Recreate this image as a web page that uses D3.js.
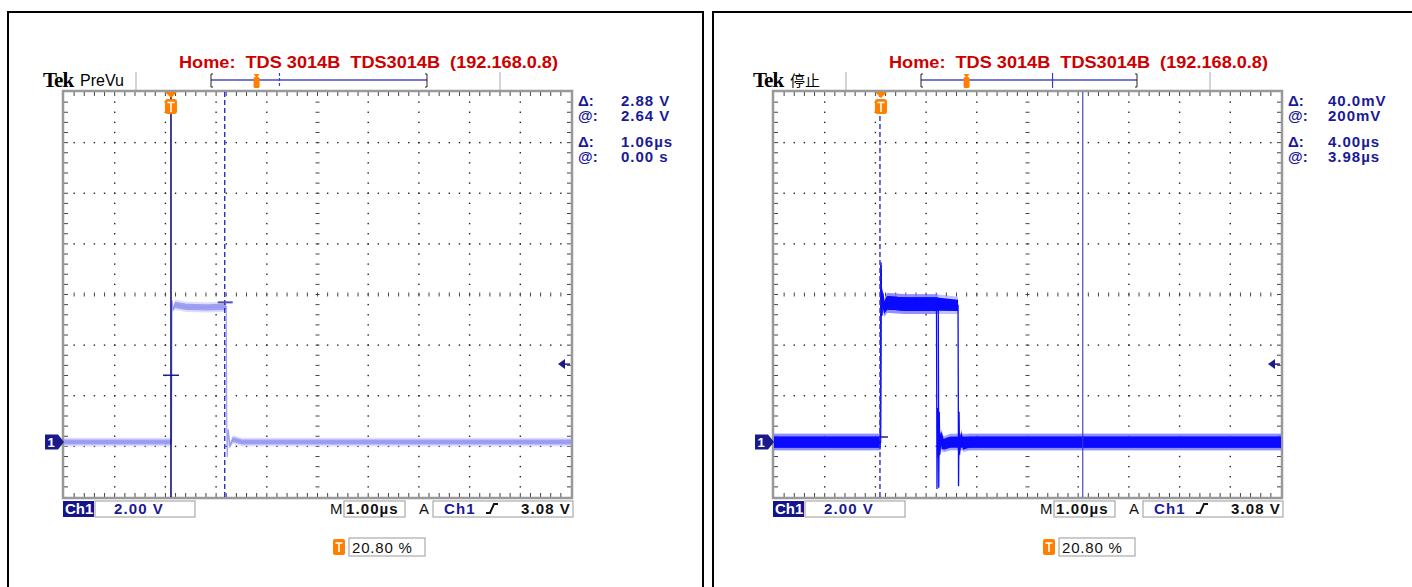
<!DOCTYPE html>
<html>
<head>
<meta charset="utf-8">
<script src="https://cdn.jsdelivr.net/npm/d3@7"></script>
<style>
body{margin:0;background:#fff;}
svg{display:block;font-family:"Liberation Sans",Arial,sans-serif;}
</style>
</head>
<body>
<div id="chart"></div>
<script>
// scope settings, both shots: 1.00 us/div, Ch1 2.00 V/div
var timeDomain = [-2.11, 7.89];      // us over the 10 divisions
var voltDomain = [-2.17, 13.83];     // V over the 8 divisions
var trigLevel = 3.08;
var trigPercent = "20.80 %";
var titleText = "Home:  TDS 3014B  TDS3014B  (192.168.0.8)";
var bottomLabels = ["Ch1", "2.00 V", "M", "1.00\u00b5s", "A", "Ch1", "3.08 V"];

// left shot (PreVu)
var leftTimes = [-2.11, 0.01, 0.02, 0.04, 0.08, 0.30, 0.70, 1.09, 1.10, 1.11, 1.13, 1.16, 1.22, 1.40, 7.89];
var leftVolts = [0, 0, 5.6, 5.25, 5.42, 5.34, 5.32, 5.34, 0.7, -0.6, 0.5, -0.15, 0.1, 0, 0];
var leftNoise = [0.2, 0.2, 0, 0.12, 0.25, 0.25, 0.25, 0.25, 0, 0, 0.08, 0.15, 0.2, 0.2, 0.2];
var leftCursorTimes = [0, 1.06];
var leftCursorVolts = [2.64, 5.52];
var leftReadLabels = ["\u0394:", "@:", "\u0394:", "@:"];
var leftReadValues = ["2.88 V", "2.64 V", "1.06\u00b5s", "0.00 s"];

// right shot (stopped), three overlaid pulses
var rightTimesA = [-2.11, -0.01, 0.0, 0.015, 0.03, 0.06, 0.12, 0.5, 1.095, 1.105, 1.115, 1.125, 1.15, 1.2, 1.35, 7.89];
var rightVoltsA = [0, 0, 7.1, 5.0, 5.9, 5.3, 5.5, 5.45, 5.45, -1.85, 1.35, -0.6, 0.4, -0.1, 0, 0];
var rightNoiseA = [0.42, 0.42, 0, 0, 0.3, 0.45, 0.52, 0.52, 0.52, 0, 0, 0.2, 0.3, 0.4, 0.42, 0.42];
var rightTimesB = [-2.11, -0.01, 0.0, 0.015, 0.03, 0.06, 0.12, 0.5, 1.13, 1.14, 1.15, 1.16, 1.19, 1.24, 1.38, 7.89];
var rightVoltsB = [0, 0, 6.8, 5.0, 5.8, 5.3, 5.5, 5.45, 5.45, -1.8, 1.2, -0.5, 0.3, -0.1, 0, 0];
var rightNoiseB = [0.42, 0.42, 0, 0, 0.3, 0.45, 0.52, 0.52, 0.52, 0, 0, 0.2, 0.3, 0.4, 0.42, 0.42];
var rightTimesC = [-2.11, -0.01, 0.0, 0.015, 0.03, 0.06, 0.12, 0.5, 1.1, 1.52, 1.53, 1.54, 1.55, 1.58, 1.62, 1.75, 7.89];
var rightVoltsC = [0, 0, 7.0, 5.0, 5.9, 5.3, 5.5, 5.45, 5.45, 5.40, -1.75, 1.2, -0.5, 0.3, -0.1, 0, 0];
var rightNoiseC = [0.42, 0.42, 0, 0, 0.3, 0.45, 0.52, 0.52, 0.52, 0.45, 0, 0, 0.2, 0.3, 0.4, 0.42, 0.42];
var rightCursorTimes = [-0.02, 3.98];
var rightCursorVolts = [0.20, 0.24];
var rightReadLabels = ["\u0394:", "@:", "\u0394:", "@:"];
var rightReadValues = ["40.0mV", "200mV", "4.00\u00b5s", "3.98\u00b5s"];

var navy = "#1a1a96";

var svg = d3.select("#chart").append("svg")
    .attr("width", 1412)
    .attr("height", 587);

svg.append("rect").attr("width", 1412).attr("height", 587).attr("fill", "#fff");

// the two window frames
svg.append("rect").attr("x", 8).attr("y", 12).attr("width", 695).attr("height", 620)
    .attr("fill", "none").attr("stroke", "#000").attr("stroke-width", 2);
svg.append("rect").attr("x", 713).attr("y", 12).attr("width", 720).attr("height", 620)
    .attr("fill", "none").attr("stroke", "#000").attr("stroke-width", 2);

function mkTraces(times, volts, noise){
    return times.map(function(t, i){ return {t: t, v: volts[i], n: noise[i]}; });
}

function drawScope(ox, o)
{
    var g = svg.append("g").attr("transform", "translate(" + ox + ",0)");
    var x = d3.scaleLinear().domain(timeDomain).range([64, 571]);
    var y = d3.scaleLinear().domain(voltDomain).range([497, 92]);
    var dx = d3.scaleLinear().domain([0, 10]).range([64, 571]);
    var dy = d3.scaleLinear().domain([0, 8]).range([92, 497]);
    var bar = d3.scaleLinear().domain(timeDomain).range([211, 427]);

    // title
    g.append("text")
        .attr("x", 179).attr("y", 68)
        .attr("textLength", 379).attr("lengthAdjust", "spacingAndGlyphs")
        .style("white-space", "pre")
        .style("font-weight", "bold").style("font-size", "16px")
        .attr("fill", "#cc0000")
        .text(titleText);

    // Tek + state
    g.append("text").attr("x", 43).attr("y", 87)
        .style("font-family", "'Liberation Serif',serif").style("font-weight", "bold")
        .style("font-size", "21px").style("letter-spacing", "-1px")
        .text("Tek");
    g.append("text").attr("x", 80).attr("y", 86)
        .style("font-family", o.stateFont).style("font-size", o.stateSize)
        .text(o.state);

    // separators and record bar
    g.selectAll(".sep").data([136, 500]).enter().append("line")
        .attr("x1", function(d){return d;}).attr("x2", function(d){return d;})
        .attr("y1", 72).attr("y2", 90)
        .attr("stroke", "#aaa").attr("stroke-width", 1);
    g.append("line").attr("x1", bar.range()[0]).attr("x2", bar.range()[1])
        .attr("y1", 80).attr("y2", 80).attr("stroke", "#4a4ac8").attr("stroke-width", 1.5);
    g.append("path")
        .attr("d", "M" + (bar.range()[0] + 2) + ",74H" + bar.range()[0] + "V87H" + (bar.range()[0] + 2) +
                   "M" + (bar.range()[1] - 2) + ",74H" + bar.range()[1] + "V87H" + (bar.range()[1] - 2))
        .attr("fill", "none").attr("stroke", "#222").attr("stroke-width", 1);
    g.append("line")
        .attr("x1", bar(o.cursorTimes[1])).attr("x2", bar(o.cursorTimes[1]))
        .attr("y1", 73).attr("y2", 88)
        .attr("stroke", "#3a3ac8").attr("stroke-width", 1.2)
        .attr("stroke-dasharray", o.solidSecond ? null : "3,2");
    var bt = bar(0);
    g.append("path")
        .attr("d", "M" + (bt - 3) + ",74L" + (bt + 3) + ",74L" + bt + ",78Z")
        .attr("fill", "#ff8000");
    g.append("rect").attr("x", bt - 3).attr("y", 77).attr("width", 6).attr("height", 11)
        .attr("rx", 1.5).attr("fill", "#ff8000");

    // graticule dots
    var gridDots = [];
    d3.range(1, 10).forEach(function(i){
        if (i === 5) return;
        d3.range(1, 40).forEach(function(j){ gridDots.push([dx(i), dy(j / 5)]); });
    });
    d3.range(1, 8).forEach(function(i){
        if (i === 4) return;
        d3.range(1, 50).forEach(function(j){ gridDots.push([dx(j / 5), dy(i)]); });
    });
    g.selectAll(".dot").data(gridDots).enter().append("rect")
        .attr("x", function(d){return d[0] - 0.7;})
        .attr("y", function(d){return d[1] - 0.7;})
        .attr("width", 1.4).attr("height", 1.4)
        .attr("fill", "#222");

    // centre lines ticks and border ticks
    var ticks = [];
    d3.range(1, 50).forEach(function(j){
        ticks.push([dx(j / 5), dy(4) - 2, dx(j / 5), dy(4) + 2]);
        ticks.push([dx(j / 5), 92, dx(j / 5), 96]);
        ticks.push([dx(j / 5), 493, dx(j / 5), 497]);
    });
    d3.range(1, 40).forEach(function(j){
        ticks.push([dx(5) - 2, dy(j / 5), dx(5) + 2, dy(j / 5)]);
        ticks.push([64, dy(j / 5), 68, dy(j / 5)]);
        ticks.push([567, dy(j / 5), 571, dy(j / 5)]);
    });
    g.selectAll(".tick").data(ticks).enter().append("line")
        .attr("x1", function(d){return d[0];}).attr("y1", function(d){return d[1];})
        .attr("x2", function(d){return d[2];}).attr("y2", function(d){return d[3];})
        .attr("stroke", "#444").attr("stroke-width", 1);

    g.append("rect").attr("x", 63).attr("y", 91).attr("width", 509).attr("height", 407)
        .attr("fill", "none").attr("stroke", "#999").attr("stroke-width", 2.5);

    // traces
    var band = d3.area()
        .x(function(d){return x(d.t);})
        .y0(function(d){return y(d.v - d.n / 2);})
        .y1(function(d){return y(d.v + d.n / 2);});
    var wide = d3.area()
        .x(function(d){return x(d.t);})
        .y0(function(d){return y(d.v - d.n * 0.7 - 0.03);})
        .y1(function(d){return y(d.v + d.n * 0.7 + 0.03);});
    var line = d3.line()
        .x(function(d){return x(d.t);})
        .y(function(d){return y(d.v);});

    o.traces.forEach(function(tr){
        g.append("path").attr("d", wide(tr)).attr("fill", o.fringe).attr("opacity", o.fringeOp);
    });
    o.traces.forEach(function(tr){
        g.append("path").attr("d", band(tr)).attr("fill", o.core).attr("opacity", o.coreOp);
        g.append("path").attr("d", line(tr)).attr("fill", "none")
            .attr("stroke", o.core).attr("stroke-width", o.edgeW).attr("opacity", o.coreOp);
    });

    // cursors
    o.cursorTimes.forEach(function(t, i){
        var solid = (i === 0) !== o.solidSecond;
        g.append("line")
            .attr("x1", x(t)).attr("x2", x(t)).attr("y1", 92).attr("y2", 497)
            .attr("stroke", solid ? o.solidColor : "#2d2dd0")
            .attr("stroke-width", solid ? o.solidW : 1.4)
            .attr("stroke-dasharray", solid ? null : "5,3");
        if (o.markL[i] !== null) {
            g.append("line")
                .attr("x1", x(t) - o.markL[i]).attr("x2", x(t) + 8)
                .attr("y1", y(o.cursorVolts[i])).attr("y2", y(o.cursorVolts[i]))
                .attr("stroke", i === 0 ? "#101090" : "#5050b0").attr("stroke-width", i === 0 ? 1.4 : 2);
        }
    });

    // trigger marker on top
    var tx = x(0);
    g.append("path").attr("d", "M" + (tx - 6) + ",92L" + (tx + 6) + ",92L" + tx + ",98Z").attr("fill", "#ff8000");
    g.append("rect").attr("x", tx - 6).attr("y", 99).attr("width", 12).attr("height", 15)
        .attr("rx", 2.5).attr("fill", "#ff8000");
    g.append("path").attr("d", "M" + (tx - 3.5) + ",102.5H" + (tx + 3.5) + "M" + tx + ",102.5V112")
        .attr("stroke", "#fff").attr("stroke-width", 1.5);

    // ground marker
    var gy = y(0);
    g.append("path")
        .attr("d", "M45," + (gy - 7.5) + "H58L64," + gy + "L58," + (gy + 7.5) + "H45Z")
        .attr("fill", "#1a1a8c");
    g.append("text").attr("x", 51).attr("y", gy + 5).attr("text-anchor", "middle")
        .attr("fill", "#fff").style("font-weight", "bold").style("font-size", "13px").text("1");

    // trigger level arrow
    var ty = y(trigLevel);
    g.append("path")
        .attr("d", "M558," + ty + "L565," + (ty - 5) + "V" + (ty + 5) + "Z")
        .attr("fill", "#1a1a8c");
    g.append("line").attr("x1", 564).attr("x2", 570).attr("y1", ty).attr("y2", ty)
        .attr("stroke", "#1a1a8c").attr("stroke-width", 1.5);

    // readouts
    var ry = [106, 121, 147, 162];
    g.selectAll(".rl").data(o.readLabels).enter().append("text")
        .attr("x", 578).attr("y", function(d, i){return ry[i];})
        .attr("fill", navy).style("font-weight", "bold").style("font-size", "15px")
        .text(function(d){return d;});
    g.selectAll(".rv").data(o.readValues).enter().append("text")
        .attr("x", o.valueX).attr("y", function(d, i){return ry[i];})
        .attr("fill", navy).style("font-weight", "bold").style("font-size", "15px")
        .style("letter-spacing", "1px")
        .text(function(d){return d;});

    // bottom status line
    var boxes = [[95, 501, 100, 16], [344, 501, 61, 16], [433, 501, 140, 16], [349, 538, 76, 18]];
    g.selectAll(".bx").data(boxes).enter().append("rect")
        .attr("x", function(d){return d[0];}).attr("y", function(d){return d[1];})
        .attr("width", function(d){return d[2];}).attr("height", function(d){return d[3];})
        .attr("fill", "#fff").attr("stroke", "#aaa").attr("stroke-width", 1.2);
    g.append("rect").attr("x", 63).attr("y", 501).attr("width", 31).attr("height", 16).attr("fill", "#14148c");
    var bx = [65, 114, 330, 346, 419, 444, 521];
    var bcol = ["#fff", navy, "#111", "#111", "#111", navy, "#111"];
    g.selectAll(".bl").data(bottomLabels).enter().append("text")
        .attr("x", function(d, i){return bx[i];}).attr("y", 514)
        .attr("fill", function(d, i){return bcol[i];})
        .style("font-weight", function(d, i){return (i === 2 || i === 4) ? "normal" : "bold";})
        .style("font-size", "15px").style("letter-spacing", function(d, i){return i === 0 ? "0px" : "1.1px";})
        .text(function(d){return d;});
    // rising slope symbol
    g.append("path").attr("d", "M486,513H490L494,504H498")
        .attr("fill", "none").attr("stroke", "#111").attr("stroke-width", 2);

    // trigger position
    g.append("rect").attr("x", 333).attr("y", 539).attr("width", 12).attr("height", 16).attr("rx", 2).attr("fill", "#ff8000");
    g.append("path").attr("d", "M335.5,543H342.5M339,543V552").attr("stroke", "#fff").attr("stroke-width", 1.6);
    g.append("text").attr("x", 352).attr("y", 553)
        .style("font-size", "15px").style("letter-spacing", "0.8px").attr("fill", "#111")
        .text(trigPercent);
}

drawScope(0, {
    state: "PreVu",
    stateFont: "'Liberation Sans',sans-serif",
    stateSize: "16px",
    traces: [mkTraces(leftTimes, leftVolts, leftNoise)],
    fringe: "#c8c8fa", fringeOp: 0.6,
    core: "#9898f2", coreOp: 0.9, edgeW: 1.2,
    cursorTimes: leftCursorTimes,
    cursorVolts: leftCursorVolts,
    solidSecond: false,
    solidColor: "#00007a", solidW: 1.5,
    markL: [8, 7],
    readLabels: leftReadLabels,
    readValues: leftReadValues,
    valueX: 621
});

drawScope(710, {
    state: "\u505c\u6b62",
    stateFont: "'Noto Sans CJK SC',sans-serif",
    stateSize: "15px",
    traces: [mkTraces(rightTimesA, rightVoltsA, rightNoiseA),
             mkTraces(rightTimesB, rightVoltsB, rightNoiseB),
             mkTraces(rightTimesC, rightVoltsC, rightNoiseC)],
    fringe: "#7a7aff", fringeOp: 0.45,
    core: "#0a0aff", coreOp: 1, edgeW: 1.3,
    cursorTimes: rightCursorTimes,
    cursorVolts: rightCursorVolts,
    solidSecond: true,
    solidColor: "#3a3ac0", solidW: 1.1,
    markL: [0, null],
    readLabels: rightReadLabels,
    readValues: rightReadValues,
    valueX: 618
});
</script>
</body>
</html>
